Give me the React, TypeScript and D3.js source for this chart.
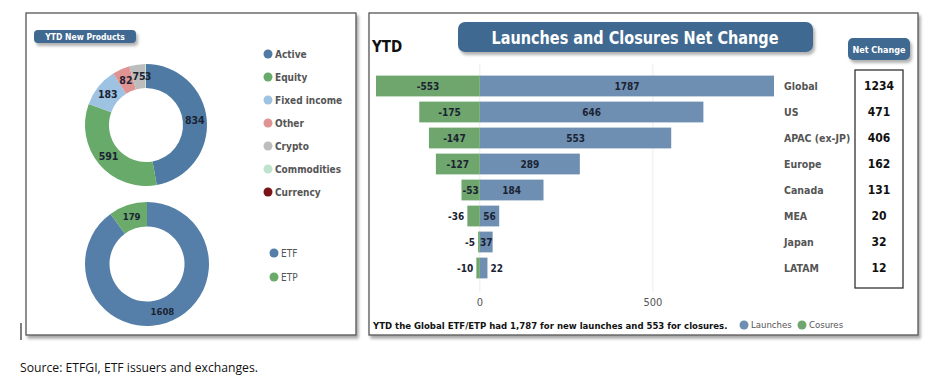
import React from "react";
import * as d3 from "d3";

const productCategories = ["Active", "Equity", "Fixed income", "Other", "Crypto", "Commodities", "Currency"];
const productValues = [834, 591, 183, 82, 75, 3, 0];
const productColors = ["#4f7aa3", "#68aa6a", "#9ec2e2", "#e09393", "#bdbdbd", "#bfe3cf", "#7a1416"];

const typeCategories = ["ETF", "ETP"];
const typeValues = [1608, 179];
const typeColors = ["#557fa8", "#6aaa6b"];

const regions = ["Global", "US", "APAC (ex-JP)", "Europe", "Canada", "MEA", "Japan", "LATAM"];
const launches = [1787, 646, 553, 289, 184, 56, 37, 22];
const closures = [-553, -175, -147, -127, -53, -36, -5, -10];
const netChange = [1234, 471, 406, 162, 131, 20, 32, 12];
const xTicks = [0, 500];

const LAUNCH = "#6e8fb2";
const CLOSE = "#6fa66d";
const DARKBLUE = "#3f6991";
const FONT = "'DejaVu Sans Condensed', 'DejaVu Sans', Roboto, sans-serif";

function Donut({ cx, cy, values, colors, inner, outer, labelSize }: any) {
  const pie = d3.pie<number>().sort(null).value((d) => d)(values);
  const arc = d3.arc<any>().innerRadius(inner).outerRadius(outer);
  const mid = (inner + outer) / 2;
  const labelArc = d3.arc<any>().innerRadius(mid).outerRadius(mid);
  return (
    <g transform={`translate(${cx},${cy})`}>
      {pie.map((p, i) => (
        <path key={i} d={arc(p) as string} fill={colors[i]} />
      ))}
      {pie.map((p, i) => {
        if (p.data <= 0) return null;
        const [lx, ly] = labelArc.centroid(p);
        const tiny = p.endAngle - p.startAngle < 0.03;
        return (
          <text key={"l" + i} x={tiny ? lx - 1 : lx} y={ly} dy="0.35em" textAnchor={tiny ? "start" : "middle"} fontSize={labelSize} fontWeight="bold" fill="#1b2333">
            {p.data}
          </text>
        );
      })}
    </g>
  );
}

export default function App() {
  const x = d3.scaleLinear().domain([-300, 850]).range([376, 774]).clamp(true);
  const y = d3.scaleBand<string>().domain(regions).range([73, 281]).paddingInner(0.2).paddingOuter(0.1);
  const bh = y.bandwidth();
  const lw = (s: string) => s.length * 5.3;

  return (
    <svg width={936} height={378} style={{ position: "absolute", left: 0, top: 0, background: "#fff" }} fontFamily={FONT}>
      <defs>
        <filter id="sh" x="-10%" y="-10%" width="130%" height="130%">
          <feDropShadow dx="2" dy="3" stdDeviation="1.8" floodColor="#000" floodOpacity="0.35" />
        </filter>
        <filter id="sh2" x="-10%" y="-20%" width="130%" height="160%">
          <feDropShadow dx="2" dy="3" stdDeviation="1.5" floodColor="#000" floodOpacity="0.3" />
        </filter>
      </defs>
      <rect width={936} height={378} fill="#fff" />

      {/* Left panel */}
      <rect x={26} y={13} width={330} height={322} fill="#fff" stroke="#555" strokeWidth={1.3} filter="url(#sh)" />
      <rect x={34} y={30} width={102} height={13} rx={4} fill={DARKBLUE} filter="url(#sh2)" />
      <text x={85} y={40} textAnchor="middle" fontSize={8.5} fontWeight="bold" fill="#fff">YTD New Products</text>

      <Donut cx={146} cy={125} values={productValues} colors={productColors} inner={37} outer={61} labelSize={10.5} />
      {productCategories.map((c, i) => (
        <g key={c}>
          <circle cx={268} cy={54 + i * 23} r={4.5} fill={productColors[i]} />
          <text x={275} y={54 + i * 23} dy="0.35em" fontSize={10} fontWeight="bold" fill="#555">{c}</text>
        </g>
      ))}

      <Donut cx={147} cy={264} values={typeValues} colors={typeColors} inner={37.5} outer={62} labelSize={9.5} />
      {typeCategories.map((c, i) => (
        <g key={c}>
          <circle cx={274} cy={253 + i * 24} r={4.5} fill={typeColors[i]} />
          <text x={281} y={253 + i * 24} dy="0.35em" fontSize={10} fill="#555">{c}</text>
        </g>
      ))}

      {/* Right panel */}
      <rect x={369} y={13} width={549} height={322} fill="#fff" stroke="#555" strokeWidth={1.3} filter="url(#sh)" />
      <rect x={458} y={22} width={355} height={30} rx={7} fill={DARKBLUE} filter="url(#sh2)" />
      <text x={635} y={44} textAnchor="middle" fontSize={18} fontWeight="bold" fill="#fff" textLength={287} lengthAdjust="spacingAndGlyphs">
        Launches and Closures Net Change
      </text>
      <text x={372} y={52} fontSize={15} fontWeight="bold" fill="#111">YTD</text>
      <rect x={848} y={38} width={62} height={22} rx={5} fill={DARKBLUE} filter="url(#sh2)" />
      <text x={879} y={53} textAnchor="middle" fontSize={9} fontWeight="bold" fill="#fff">Net Change</text>

      {xTicks.map((t) => (
        <g key={t}>
          <line x1={x(t)} x2={x(t)} y1={64} y2={292} stroke="#ececec" strokeWidth={1} />
          <text x={x(t)} y={306} textAnchor="middle" fontSize={11} fill="#555">{t}</text>
        </g>
      ))}

      {regions.map((r, i) => {
        const yc = (y(r) as number) + bh / 2;
        const x0 = x(0);
        const xl = x(launches[i]);
        const xc = x(closures[i]);
        const ls = String(launches[i]);
        const cs = String(closures[i]);
        const lIn = xl - x0 >= lw(ls);
        const cIn = x0 - xc >= lw(cs);
        return (
          <g key={r}>
            <rect x={x0} y={y(r)} width={xl - x0} height={bh} fill={LAUNCH} />
            <rect x={xc} y={y(r)} width={x0 - xc} height={bh} fill={CLOSE} />
            <text x={lIn ? (x0 + xl) / 2 : xl + 3} y={yc} dy="0.35em" textAnchor={lIn ? "middle" : "start"} fontSize={10} fontWeight="bold" fill="#1b2333">{ls}</text>
            <text x={cIn ? (x0 + xc) / 2 : xc - 3} y={yc} dy="0.35em" textAnchor={cIn ? "middle" : "end"} fontSize={10} fontWeight="bold" fill="#1b2333">{cs}</text>
            <text x={784} y={yc} dy="0.35em" fontSize={10.5} fontWeight="bold" fill="#555">{r}</text>
            <text x={879} y={yc} dy="0.35em" textAnchor="middle" fontSize={12} fontWeight="bold" fill="#111">{netChange[i]}</text>
          </g>
        );
      })}
      <rect x={855} y={70} width={48} height={218} fill="none" stroke="#333" strokeWidth={1.3} />

      <text x={373} y={329} fontSize={9.5} fontWeight="bold" fill="#111">
        YTD the Global ETF/ETP had 1,787 for new launches and 553 for closures.
      </text>
      <circle cx={744} cy={325} r={4.5} fill={LAUNCH} />
      <text x={751} y={325} dy="0.35em" fontSize={9.5} fill="#555">Launches</text>
      <circle cx={802} cy={325} r={4.5} fill={CLOSE} />
      <text x={809} y={325} dy="0.35em" fontSize={9.5} fill="#555">Cosures</text>

      <line x1={21} x2={21} y1={323} y2={340} stroke="#000" strokeWidth={1} />
      <text x={20} y={372} fontSize={12.2} fill="#111" fontFamily="'Open Sans', 'Noto Sans', sans-serif">
        Source: ETFGI, ETF issuers and exchanges.
      </text>
    </svg>
  );
}
